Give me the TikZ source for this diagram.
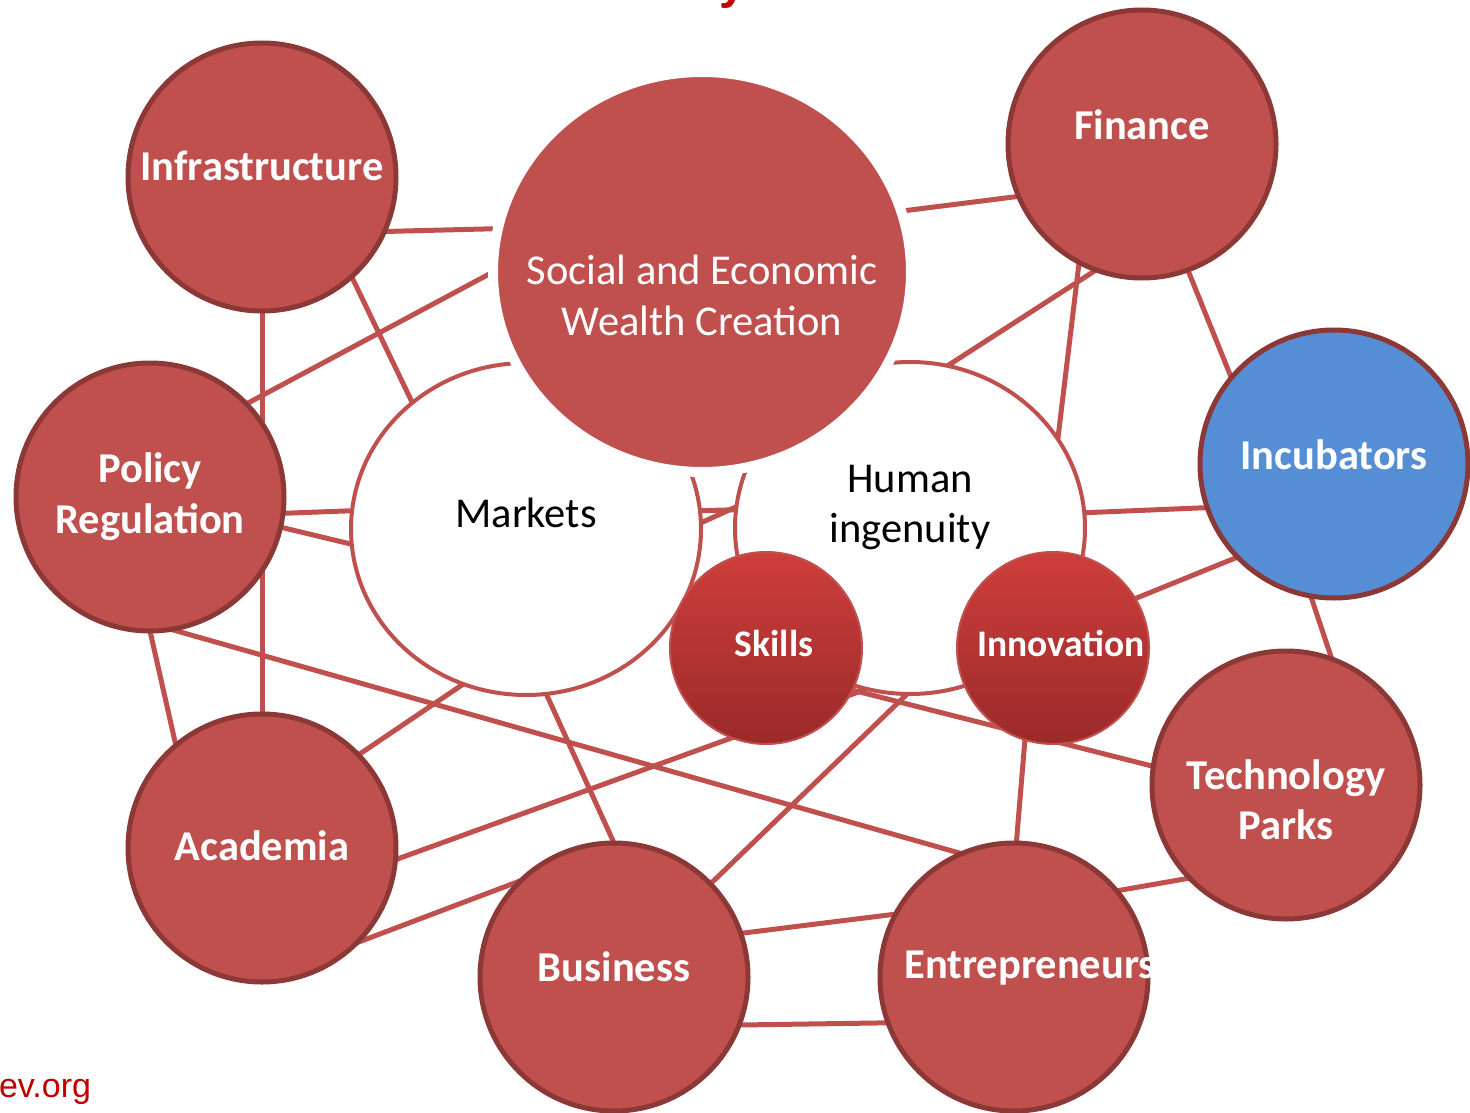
\documentclass[tikz,border=0pt]{standalone}
\usepackage{fontspec}
\setmainfont{Carlito}
\newfontfamily\arialfont{Liberation Sans}
\usetikzlibrary{shapes.geometric}
\pgfdeclarelayer{bg}
\pgfsetlayers{bg,main}
\definecolor{nodered}{HTML}{C0504D}
\definecolor{rimred}{HTML}{8C3836}
\definecolor{incblue}{HTML}{558ED5}
\definecolor{linkred}{HTML}{C0504D}
\definecolor{skilltop}{HTML}{CD3E3C}
\definecolor{skillbot}{HTML}{9A2A29}
\definecolor{titlered}{HTML}{C00000}
\begin{document}
\begin{tikzpicture}[x=1pt,y=-1pt,
  every node/.style={outer sep=0pt, inner sep=0pt},
  bigc/.style={circle, minimum size=268pt, fill=nodered, draw=rimred, line width=5pt},
  whitec/.style={ellipse, minimum width=350pt, minimum height=332pt, fill=white, draw=linkred, line width=4pt},
  smallc/.style={circle, minimum size=192pt, top color=skilltop, bottom color=skillbot, draw=linkred, line width=2pt},
  lbl/.style={text=white, font=\fontsize{42.5}{50}\selectfont\bfseries, anchor=base},
  slbl/.style={text=white, font=\fontsize{37.5}{44}\selectfont\bfseries, anchor=base},
  wlbl/.style={text=white, font=\fontsize{42.5}{50}\selectfont, anchor=base},
  blk/.style={text=black, font=\fontsize{42.5}{50}\selectfont, anchor=base},
  link/.style={draw=linkred, line width=5pt},
]
\useasboundingbox (0,0) rectangle (1470,1113);

% white circles and central ellipse
\node[whitec] (markets) at (526,529) {};
\node[whitec] (human) at (910,528) {};
\node[ellipse, minimum width=418pt, minimum height=400pt, fill=nodered, draw=white, line width=10pt] (social) at (702,272) {};
\node[smallc] (skills) at (766,648) {};
\node[smallc] (innov) at (1053,648) {};

% outer circles
\node[bigc] (infra) at (262,177) {};
\node[bigc] (finance) at (1142,144) {};
\node[bigc] (policy) at (150,497) {};
\node[bigc, fill=incblue] (incub) at (1334,464) {};
\node[bigc] (tech) at (1286,785) {};
\node[bigc] (acad) at (262,848) {};
\node[bigc] (bus) at (614,977) {};
\node[bigc] (entre) at (1014,977) {};

% connectors
\begin{pgfonlayer}{bg}
\draw[link] (infra.336.4) -- (social.168);
\draw[link] (infra.312) -- (markets.132);
\draw[link] (infra.270) -- (acad.90);
\draw[link] (policy.44.7) -- (social.180.8);
\draw[link] (policy.353.8) -- (markets.174.5);
\draw[link] (policy.347.3) -- (markets.185.8);
\draw[link] (policy.270) -- (acad.130.3);
\draw[link] (policy.279.7) -- (entre.113.5);
\draw[link] (acad.44.4) -- (markets.248);
\draw[link] (acad.355.4) -- (human.255.3);
\draw[link] (acad.315) -- (bus.134.7);
\draw[link] (markets.277.1) -- (bus.90);
\draw[link] (bus.44.4) -- (human.269);
\draw[link] (bus.19.7) -- (entre.152.1);
\draw[link] (bus.339.4) -- (entre.200.4);
\draw[link] (skills.334.2) -- (tech.172.6);
\draw[link] (innov.253.4) -- (entre.89);
\draw[link] (innov.31.9) -- (incub.224.7);
\draw[link] (human.5.2) -- (incub.199.4);
\draw[link] (incub.260) -- (tech.70.8);
\draw[link] (finance.290) -- (incub.140.9);
\draw[link] (social.17.9) -- (finance.203.8);
\draw[link] (finance.250.4) -- (human.77);
\draw[link] (finance.242.7) -- (human.31.6);
\draw[link] (markets.6.1) -- (human.174.2);
\draw[link] (markets.2.2) -- (human.173.2);
\draw[link] (entre.40.3) -- (tech.224.7);
\end{pgfonlayer}

% labels
\node[lbl] (infra-t) at (262,181) {Infrastructure};
\node[lbl] (finance-t) at (1142,140) {Finance};
\node[wlbl] (social-t1) at (702,284) {Social and Economic};
\node[wlbl] (social-t2) at (702,335) {Wealth Creation};
\node[lbl] (policy-t1) at (150,482) {Policy};
\node[lbl] (policy-t2) at (150,533) {Regulation};
\node[blk] (markets-t) at (526,527) {Markets};
\node[blk] (human-t1) at (910,492) {Human};
\node[blk] (human-t2) at (910,542) {ingenuity};
\node[lbl] (incub-t) at (1334,469) {Incubators};
\node[slbl] (skills-t) at (774,656) {Skills};
\node[slbl] (innov-t) at (1061,656) {Innovation};
\node[lbl] (tech-t1) at (1286,789) {Technology};
\node[lbl] (tech-t2) at (1286,839) {Parks};
\node[lbl] (acad-t) at (262,860) {Academia};
\node[lbl] (bus-t) at (614,981) {Business};
\node[lbl] (entre-t) at (1030,978) {Entrepreneurs};
\node[text=titlered, font=\arialfont\fontsize{34}{40}\selectfont, anchor=base east] (web-t) at (91,1097) {ev.org};
\node[text=titlered, font=\arialfont\bfseries\fontsize{48}{56}\selectfont, anchor=base] (title-t) at (733,-1) {y};
\end{tikzpicture}
\end{document}
